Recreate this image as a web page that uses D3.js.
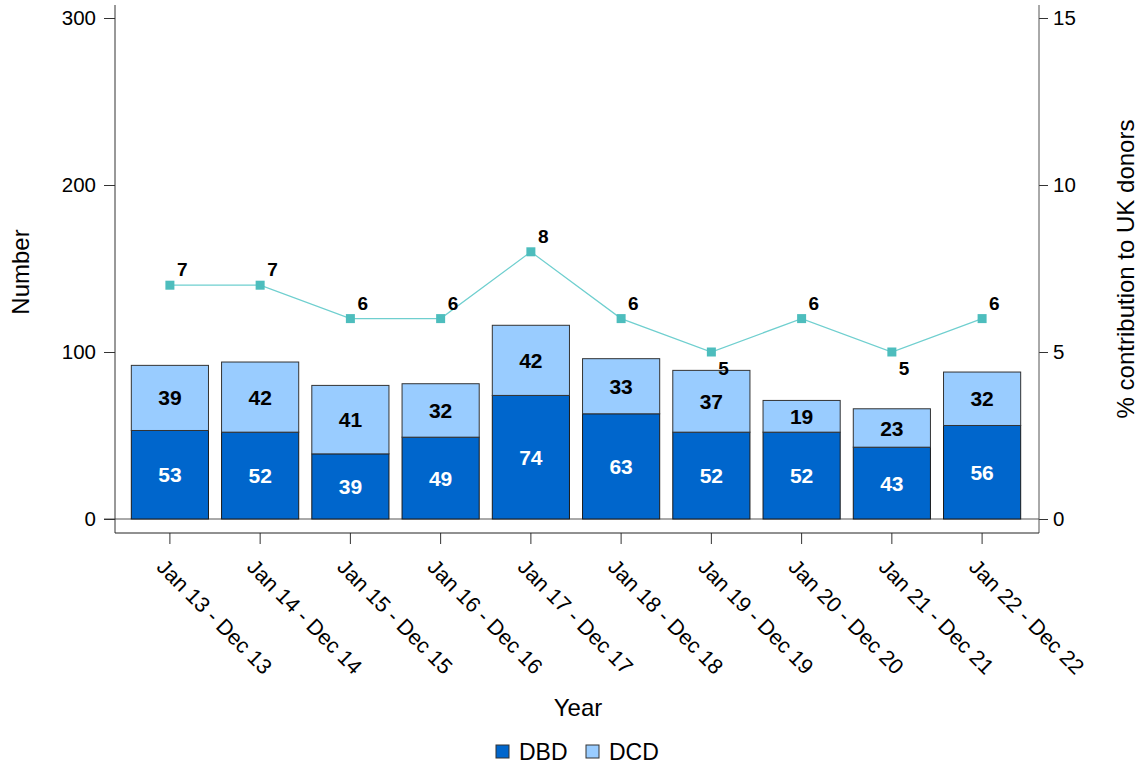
<!DOCTYPE html>
<html>
<head>
<meta charset="utf-8">
<script src="https://cdn.jsdelivr.net/npm/d3@7"></script>
<style>
  body { margin: 0; background: #fff; }
  svg text { font-family: "Liberation Sans", Arial, sans-serif; }
</style>
</head>
<body>
<svg id="chart" width="1140" height="769"></svg>
<script>
var years = ["Jan 13 - Dec 13", "Jan 14 - Dec 14", "Jan 15 - Dec 15", "Jan 16 - Dec 16", "Jan 17 - Dec 17",
  "Jan 18 - Dec 18", "Jan 19 - Dec 19", "Jan 20 - Dec 20", "Jan 21 - Dec 21", "Jan 22 - Dec 22"];
var dbd = [53, 52, 39, 49, 74, 63, 52, 52, 43, 56];
var dcd = [39, 42, 41, 32, 42, 33, 37, 19, 23, 32];
var pct = [7, 7, 6, 6, 8, 6, 5, 6, 5, 6];
var leftTicks = [0, 100, 200, 300];
var rightTicks = [0, 5, 10, 15];

var svg = d3.select("#chart");
var colDBD = "#0066cc", colDCD = "#99ccff", colLine = "#6fcfcf", colMark = "#4dbdbd";

var x = d3.scaleBand().domain(years).range([125, 1027]).paddingInner(0.145).paddingOuter(0.07);
var y = d3.scaleLinear().domain([0, 300]).range([519, 18]);
var y2 = d3.scaleLinear().domain([0, 15]).range([519, 18]);

// zero line across
svg.append("line").attr("x1", 104).attr("x2", 1039).attr("y1", y(0)).attr("y2", y(0))
  .attr("stroke", "#555").attr("stroke-width", 1);

// left axis
var gl = svg.append("g").attr("transform", "translate(115,0)")
  .call(d3.axisLeft(y).tickValues(leftTicks).tickSize(11).tickPadding(8));
gl.select(".domain").remove();
gl.append("line").attr("x1", 0).attr("x2", 0).attr("y1", 5).attr("y2", 533).attr("stroke", "#333");

// right axis
var gr = svg.append("g").attr("transform", "translate(1039,0)")
  .call(d3.axisRight(y2).tickValues(rightTicks).tickSize(9).tickPadding(5));
gr.select(".domain").remove();
gr.append("line").attr("x1", 0).attr("x2", 0).attr("y1", 5).attr("y2", 533).attr("stroke", "#555");

// bottom axis
var gb = svg.append("g").attr("transform", "translate(0,533)")
  .call(d3.axisBottom(x).tickSize(11).tickSizeOuter(0));
gb.select(".domain").remove();
gb.append("line").attr("x1", 115).attr("x2", 1039).attr("y1", 0).attr("y2", 0).attr("stroke", "#222");

svg.selectAll(".tick text").attr("font-size", 20.5).attr("fill", "#000");
svg.selectAll(".tick line").attr("stroke", "#333");

gb.selectAll(".tick text")
  .attr("font-size", 21.5)
  .attr("text-anchor", "start")
  .attr("transform", "translate(-9,30) rotate(45)")
  .attr("dy", "0.35em").attr("y", 0).attr("x", 0);

// bars
var bars = svg.append("g");
years.forEach(function(d, i) {
  var x0 = x(d), w = x.bandwidth();
  bars.append("rect").attr("x", x0).attr("width", w)
    .attr("y", y(dbd[i])).attr("height", y(0) - y(dbd[i]))
    .attr("fill", colDBD).attr("stroke", "#1a1a1a").attr("stroke-width", 1);
  bars.append("rect").attr("x", x0).attr("width", w)
    .attr("y", y(dbd[i] + dcd[i])).attr("height", y(dbd[i]) - y(dbd[i] + dcd[i]))
    .attr("fill", colDCD).attr("stroke", "#333").attr("stroke-width", 1);
  bars.append("text").attr("x", x0 + w / 2).attr("y", (y(0) + y(dbd[i])) / 2)
    .attr("dy", "0.36em").attr("text-anchor", "middle").attr("font-size", 21)
    .attr("font-weight", "bold").attr("fill", "#fff").text(dbd[i]);
  bars.append("text").attr("x", x0 + w / 2).attr("y", (y(dbd[i]) + y(dbd[i] + dcd[i])) / 2)
    .attr("dy", "0.36em").attr("text-anchor", "middle").attr("font-size", 21)
    .attr("font-weight", "bold").attr("fill", "#000").text(dcd[i]);
});

// line
var cx = function(d, i) { return x(years[i]) + x.bandwidth() / 2; };
svg.append("path").datum(pct)
  .attr("d", d3.line().x(cx).y(function(d) { return y2(d); }))
  .attr("fill", "none").attr("stroke", colLine).attr("stroke-width", 1.2);
svg.append("g").selectAll("rect").data(pct).enter().append("rect")
  .attr("x", function(d, i) { return cx(d, i) - 4.5; })
  .attr("y", function(d) { return y2(d) - 4.5; })
  .attr("width", 9).attr("height", 9).attr("fill", colMark);
svg.append("g").selectAll("text").data(pct).enter().append("text")
  .attr("x", function(d, i) { return cx(d, i) + 7; })
  .attr("y", function(d) { return d === 5 ? y2(d) + 23 : y2(d) - 9; })
  .attr("font-size", 19).attr("font-weight", "bold").attr("fill", "#000")
  .text(function(d) { return d; });

// axis titles
svg.append("text").attr("transform", "translate(29,272) rotate(-90)")
  .attr("text-anchor", "middle").attr("font-size", 24).text("Number");
svg.append("text").attr("transform", "translate(1134,269) rotate(-90)")
  .attr("text-anchor", "middle").attr("font-size", 24).text("% contribution to UK donors");
svg.append("text").attr("x", 578).attr("y", 716)
  .attr("text-anchor", "middle").attr("font-size", 24).text("Year");

// legend
var legend = [["DBD", colDBD, 496], ["DCD", colDCD, 586]];
legend.forEach(function(l) {
  svg.append("rect").attr("x", l[2]).attr("y", 745).attr("width", 13).attr("height", 13)
    .attr("fill", l[1]).attr("stroke", "#333").attr("stroke-width", 1);
  svg.append("text").attr("x", l[2] + 23).attr("y", 760).attr("font-size", 23).text(l[0]);
});
</script>
</body>
</html>
